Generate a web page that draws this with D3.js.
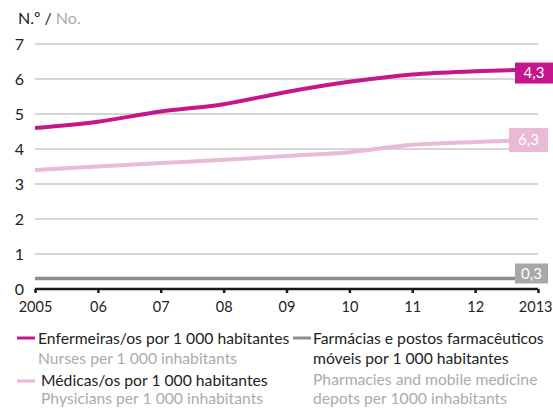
<!DOCTYPE html>
<html><head><meta charset="utf-8">
<script src="https://cdn.jsdelivr.net/npm/d3@7"></script>
<style>
html,body{margin:0;padding:0;background:#fff;}
svg{display:block;font-family:Lato,"Open Sans",sans-serif;}
</style></head>
<body><svg id="c" width="553" height="408"></svg>
<script>
const years = [2005, 2006, 2007, 2008, 2009, 2010, 2011, 2012, 2013];
const xTickLabels = ["2005", "06", "07", "08", "09", "10", "11", "12", "2013"];
const yTicks = [0, 1, 2, 3, 4, 5, 6, 7];
const nurses = [4.6, 4.78, 5.07, 5.28, 5.63, 5.92, 6.13, 6.22, 6.27];
const physicians = [3.4, 3.5, 3.6, 3.69, 3.8, 3.91, 4.12, 4.2, 4.27];
const pharmacies = [0.3, 0.3, 0.3, 0.3, 0.3, 0.3, 0.3, 0.3, 0.3];
const endLabels = ["4,3", "6,3", "0,3"];
const seriesNames = ["Enfermeiras/os por 1 000 habitantes", "Médicas/os por 1 000 habitantes", "Farmácias e postos farmacêuticos"];

const svg = d3.select("#c");
const x = d3.scaleLinear().domain([2005, 2013]).range([35, 538]);
const y = d3.scaleLinear().domain([0, 7]).range([289, 44]);

const C_NURSE = "#c5168c", C_PHYS = "#e9b9d7", C_PHARM = "#8e8e8e", C_PHARM_BOX = "#a8a8a8";
const GRID = "#c8c8c8", DARK = "#222", GREY = "#ababab";

// grid
svg.append("g").selectAll("line").data(yTicks.filter(d => d > 0)).join("line")
  .attr("x1", x(2005)).attr("x2", x(2013)).attr("y1", d => y(d)).attr("y2", d => y(d))
  .attr("stroke", GRID).attr("stroke-width", 1.5);

// y labels
svg.append("g").selectAll("text").data(yTicks).join("text")
  .attr("x", 24).attr("y", d => y(d)).attr("dy", "0.36em").attr("text-anchor", "end")
  .attr("font-size", 16).attr("fill", DARK).text(d => d);

// x axis
const xAxis = d3.axisBottom(x).tickValues(years).tickSize(4).tickFormat((d, i) => xTickLabels[i]);
const gx = svg.append("g").attr("transform", `translate(0,${y(0)})`).call(xAxis);
gx.select(".domain").attr("stroke", "#1a1a1a").attr("stroke-width", 2.5).attr("d", `M${x(2005)},0H${x(2013)}`);
gx.selectAll(".tick line").attr("stroke", "#1a1a1a").attr("stroke-width", 2.5);
gx.selectAll(".tick text").attr("font-size", 14.5).attr("fill", DARK).attr("font-family", "Lato,'Open Sans',sans-serif").attr("y", 13);
gx.selectAll(".tick text").filter(d => d === 2013).attr("text-anchor", "end").attr("x", 14);

// lines
const line = d3.line().x((d, i) => x(years[i])).y(d => y(d)).curve(d3.curveMonotoneX);
svg.append("path").attr("d", line(pharmacies)).attr("fill", "none").attr("stroke", C_PHARM).attr("stroke-width", 3.5);
svg.append("path").attr("d", line(physicians)).attr("fill", "none").attr("stroke", C_PHYS).attr("stroke-width", 4);
svg.append("path").attr("d", line(nurses)).attr("fill", "none").attr("stroke", C_NURSE).attr("stroke-width", 4);

// end labels
function endBox(val, label, fill, x0, w, h, dyc) {
  const cy = y(val) + dyc;
  svg.append("rect").attr("x", x0).attr("y", cy - h / 2).attr("width", w).attr("height", h).attr("fill", fill);
  svg.append("text").attr("x", x0 + w / 2).attr("y", cy).attr("dy", "0.36em").attr("text-anchor", "middle")
    .attr("font-size", 15).attr("fill", "#fff").text(label);
}
endBox(nurses[8], endLabels[0], C_NURSE, 515, 38, 21, 3.5);
endBox(physicians[8], endLabels[1], C_PHYS, 509, 39, 24, 0.5);
endBox(pharmacies[8], endLabels[2], C_PHARM_BOX, 515, 33, 20, -5);

// title
const t = svg.append("text").attr("x", 18).attr("y", 24).attr("font-size", 16);
t.append("tspan").attr("fill", DARK).text("N.º /");
t.append("tspan").attr("fill", GREY).text(" No.");

// legend
const lg = svg.append("g");
function dash(x1, x2, yy, c) {
  lg.append("line").attr("x1", x1).attr("x2", x2).attr("y1", yy).attr("y2", yy).attr("stroke", c).attr("stroke-width", 3);
}
function txt(xx, yy, s, c) {
  lg.append("text").attr("x", xx).attr("y", yy).attr("dy", "0.36em").attr("font-size", 15.7).attr("fill", c).text(s);
}
dash(17, 35, 338, C_NURSE);
txt(38, 338, seriesNames[0], DARK);
txt(38, 358, "Nurses per 1 000 inhabitants", GREY);
dash(17, 35, 381, C_PHYS);
txt(41, 380, seriesNames[1], DARK);
txt(41, 398, "Physicians per 1 000 inhabitants", GREY);
dash(293, 311, 338, C_PHARM);
txt(313, 338, seriesNames[2], DARK);
txt(313, 358, "móveis por 1 000 habitantes", DARK);
txt(313, 379, "Pharmacies and mobile medicine", GREY);
txt(313, 398, "depots per 1000 inhabitants", GREY);
</script></body></html>
